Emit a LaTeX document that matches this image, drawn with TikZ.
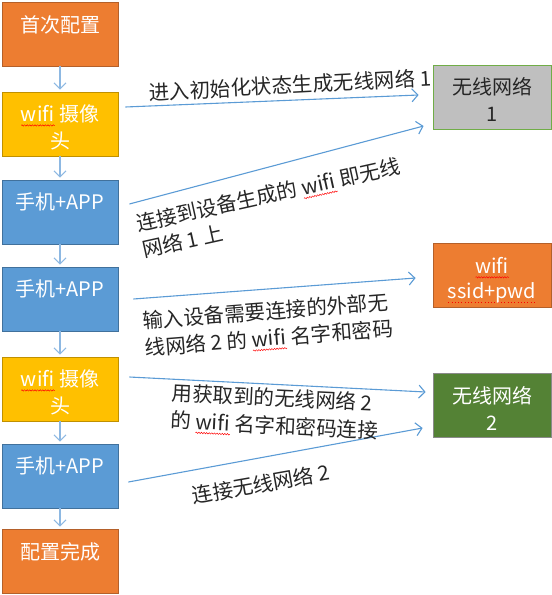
\documentclass[tikz,border=0pt]{standalone}
\usepackage{fontspec}
\setmainfont{Noto Sans CJK SC}
\usetikzlibrary{arrows.meta,calc,decorations.pathmorphing}

\definecolor{orangeC}{HTML}{ED7D31}
\definecolor{orangeD}{HTML}{B4602A}
\definecolor{goldC}{HTML}{FFC000}
\definecolor{goldD}{HTML}{C09000}
\definecolor{blueC}{HTML}{5B9BD5}
\definecolor{blueD}{HTML}{41719C}
\definecolor{grayC}{HTML}{BFBFBF}
\definecolor{greenB}{HTML}{70AD47}
\definecolor{greenC}{HTML}{548235}
\definecolor{greenD}{HTML}{8A8A8A}
\definecolor{arrowL}{HTML}{8DB8E2}
\definecolor{arrowB}{HTML}{5B9BD5}

% spell-check marks under some words
\newlength\wordwd
\newcommand\spellwave[1]{\settowidth\wordwd{#1}\rlap{\tikz[baseline=0pt]\draw[red, line width=0.45pt,
    decorate, decoration={snake, amplitude=0.7pt, segment length=2.6pt}] (0pt,-3.5pt) -- (\wordwd,-3.5pt);}#1}
\newcommand\spelldots[1]{\settowidth\wordwd{#1}\rlap{\tikz[baseline=0pt]\draw[red, line width=0.9pt,
    dash pattern=on 0.9pt off 2.4pt] (0pt,-4pt) -- (\wordwd,-4pt);}#1}

\tikzset{
    stepbox/.style={line width=0.8pt, minimum width=116pt, minimum height=64pt, inner sep=0pt},
    netbox/.style={line width=0.8pt, minimum width=118pt, minimum height=64pt, inner sep=0pt},
    boxtxt/.style={anchor=north, yshift=-10pt, align=center, text=white, font=\fontsize{20}{27}\selectfont},
    flow/.style={draw=arrowL, line width=1.1pt, shorten >=2pt, -{Straight Barb[length=6pt,width=12pt]}},
    link/.style={draw=arrowB, line width=1.1pt, -{Straight Barb[length=6pt,width=13pt]}},
    note/.style={align=left, inner sep=0pt, text=black!85, font=\fontsize{20.5}{27}\selectfont}
}

\begin{document}
\begin{tikzpicture}[x=1pt, y=-1pt]
\useasboundingbox (0,0) rectangle (552,595);

% Left column: the configuration steps
\node[stepbox, fill=orangeC, draw=orangeD, label={[boxtxt]north:首次配置}] (cfg) at (60,34) {};
\node[stepbox, fill=goldC, draw=goldD, label={[boxtxt]north:\spellwave{wifi} 摄像\\头}] (cam1) at (60,124) {};
\node[stepbox, fill=blueC, draw=blueD, label={[boxtxt]north:手机+APP}] (app1) at (60,212) {};
\node[stepbox, fill=blueC, draw=blueD, label={[boxtxt]north:手机+APP}] (app2) at (60,299) {};
\node[stepbox, fill=goldC, draw=goldD, label={[boxtxt]north:\spellwave{wifi} 摄像\\头}] (cam2) at (60,389) {};
\node[stepbox, fill=blueC, draw=blueD, label={[boxtxt]north:手机+APP}] (app3) at (60,476) {};
\node[stepbox, fill=orangeC, draw=orangeD, label={[boxtxt]north:配置完成}] (done) at (60,561) {};

\foreach \a/\b in {cfg/cam1, cam1/app1, app1/app2, app2/cam2, cam2/app3, app3/done}
    \draw[flow] (\a) -- (\b);

% Right column: networks
\node[netbox, fill=grayC, draw=greenB, label={[boxtxt, yshift=1pt, text=black!85]north:无线网络\\1}] (net1) at (492,97) {};
\node[netbox, fill=orangeC, draw=orangeD, label={[boxtxt, yshift=-1pt, font=\fontsize{20}{25}\selectfont]north:\spellwave{wifi}\\\spelldots{ssid+pwd}}] (ssid) at (492,275.5) {};
\node[netbox, fill=greenC, draw=greenD, label={[boxtxt]north:无线网络\\2}] (net2) at (492,405) {};

% Messages
\draw[link] ($(cam1.east)+(7,-17)$) -- ($(net1.west)+(-14,-2)$);
\draw[link] ($(app1.east)+(11,-8)$) -- ($(net1.west)+(-9,29)$);
\draw[link] ($(app2.east)+(15,0)$) -- ($(ssid.west)+(-17,2.5)$);
\draw[link] ($(cam2.east)+(11,-12)$) -- ($(net2.west)+(-7,-13)$);
\draw[link] ($(app3.east)+(10,6)$) -- ($(net2.west)+(-10,23)$);

\node[note, rotate=3] (tEnter) at (290,85) {进入初始化状态生成无线网络 1};
\node[note, rotate=12.5] (tJoin) at (271,208) {连接到设备生成的 \spellwave{wifi} 即无线\\网络 1 上};
\node[note, rotate=4.5] (tInput) at (268,326) {输入设备需要连接的外部无\\线网络 2 的 \spellwave{wifi} 名字和密码};
\node[note, rotate=-2.8] (tUse) at (275,413) {用获取到的无线网络 2\\的 \spellwave{wifi} 名字和密码连接};
\node[note, rotate=10] (tLink) at (261,484) {连接无线网络 2};

\end{tikzpicture}
\end{document}
